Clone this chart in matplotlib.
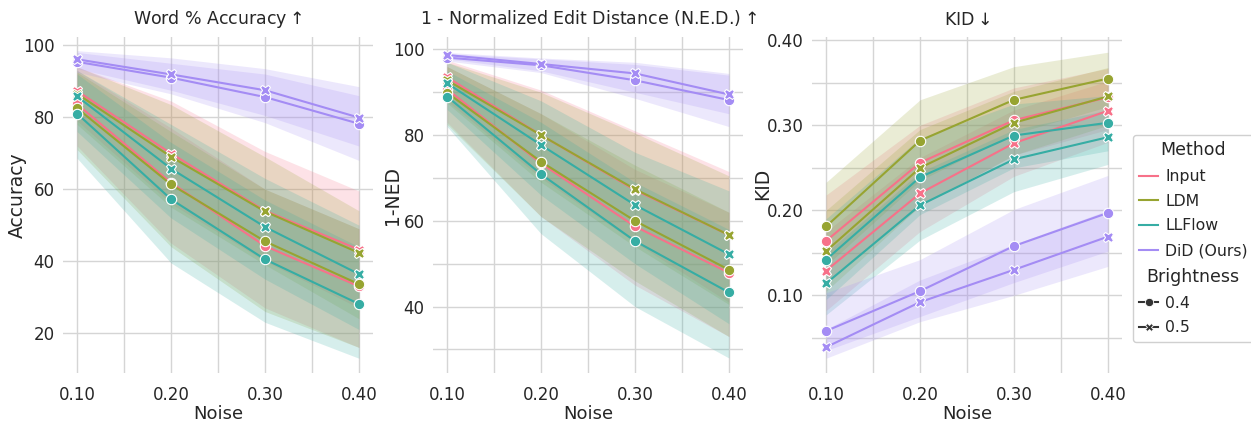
import matplotlib
matplotlib.use("Agg")
import matplotlib.pyplot as plt
from matplotlib.lines import Line2D
from matplotlib.offsetbox import VPacker
from matplotlib.ticker import MultipleLocator, FormatStrFormatter

# ---------------- data ----------------
noise = [0.10, 0.20, 0.30, 0.40]
methods = ["Input", "LDM", "LLFlow", "DiD (Ours)"]
brightness = ["0.4", "0.5"]
colors = ["#f77189", "#97a431", "#36ada4", "#a48cf4"]

# rows ordered: (Input,0.4),(Input,0.5),(LDM,0.4),(LDM,0.5),(LLFlow,0.4),(LLFlow,0.5),(DiD,0.4),(DiD,0.5)
acc_mean = [[83.6, 61.8, 44.2, 33.0], [87.3, 69.9, 54.0, 43.2],
            [82.5, 61.3, 45.5, 33.6], [86.5, 69.0, 53.8, 42.3],
            [81.0, 57.2, 40.5, 28.1], [85.8, 65.7, 49.5, 36.4],
            [95.4, 91.0, 85.6, 78.2], [96.1, 91.9, 87.5, 79.9]]
acc_lo = [[72.0, 45.0, 27.0, 16.0], [79.0, 56.0, 40.0, 27.0],
          [71.0, 44.0, 26.0, 16.0], [78.0, 55.0, 39.0, 24.0],
          [68.6, 39.5, 23.0, 13.0], [76.0, 52.0, 35.0, 21.0],
          [92.5, 86.5, 78.5, 68.0], [93.5, 87.5, 80.5, 72.0]]
acc_hi = [[93.0, 77.0, 60.0, 49.0], [94.0, 84.5, 70.5, 59.5],
          [92.5, 76.0, 60.0, 49.0], [94.0, 83.5, 69.0, 54.0],
          [92.0, 73.0, 57.0, 44.0], [93.0, 78.0, 63.0, 50.0],
          [98.0, 95.0, 92.0, 86.0], [98.5, 96.5, 93.5, 88.5]]

ned_mean = [[90.7, 73.4, 58.7, 47.9], [93.5, 80.0, 67.2, 56.7],
            [89.9, 73.8, 60.0, 48.6], [92.8, 80.0, 67.4, 56.7],
            [89.0, 70.9, 55.3, 43.3], [92.1, 77.7, 63.7, 52.2],
            [98.1, 96.3, 92.8, 88.2], [98.7, 96.6, 94.4, 89.5]]
ned_lo = [[83.0, 61.0, 45.0, 33.0], [88.0, 70.0, 55.0, 41.0],
          [82.5, 61.0, 46.0, 33.0], [87.5, 69.0, 54.0, 40.5],
          [82.0, 57.0, 40.0, 28.0], [86.0, 66.0, 50.0, 36.0],
          [97.3, 94.6, 88.6, 82.0], [97.8, 95.0, 90.0, 85.0]]
ned_hi = [[96.0, 85.0, 72.0, 62.0], [97.5, 90.5, 81.0, 71.5],
          [96.0, 85.0, 73.0, 62.0], [97.0, 90.0, 80.5, 70.5],
          [95.0, 83.0, 69.0, 58.0], [97.0, 88.0, 76.0, 67.0],
          [99.0, 97.8, 96.5, 94.0], [99.3, 98.0, 97.0, 94.4]]

kid_mean = [[0.164, 0.256, 0.306, 0.333], [0.129, 0.220, 0.279, 0.317],
            [0.181, 0.282, 0.330, 0.355], [0.152, 0.250, 0.303, 0.334],
            [0.142, 0.239, 0.288, 0.303], [0.114, 0.206, 0.260, 0.286],
            [0.058, 0.105, 0.158, 0.197], [0.039, 0.092, 0.130, 0.169]]
kid_lo = [[0.115, 0.205, 0.265, 0.295], [0.082, 0.175, 0.240, 0.280],
          [0.135, 0.235, 0.290, 0.322], [0.105, 0.205, 0.265, 0.300],
          [0.095, 0.195, 0.250, 0.270], [0.077, 0.165, 0.222, 0.254],
          [0.035, 0.075, 0.115, 0.152], [0.026, 0.069, 0.100, 0.134]]
kid_hi = [[0.218, 0.300, 0.344, 0.367], [0.175, 0.262, 0.318, 0.352],
          [0.233, 0.330, 0.369, 0.386], [0.200, 0.295, 0.340, 0.368],
          [0.190, 0.285, 0.325, 0.335], [0.150, 0.245, 0.295, 0.318],
          [0.103, 0.142, 0.201, 0.241], [0.060, 0.118, 0.160, 0.200]]

titles = ["Word % Accuracy$\\uparrow$",
          "1 - Normalized Edit Distance (N.E.D.)$\\uparrow$",
          "KID$\\downarrow$"]
ylabels = ["Accuracy", "1-NED", "KID"]

# ---------------- style ----------------
TXT = "#262626"
GRID = "#d5d5d5"
plt.rcParams.update({
    "font.family": ["DejaVu Sans"],
    "text.color": TXT, "axes.labelcolor": TXT,
    "xtick.color": TXT, "ytick.color": TXT,
})

W, H = 1251, 424
fig = plt.figure(figsize=(W / 100, H / 100), dpi=100)
lefts = [63, 433, 812]
ax_w, top_px, bot_px = 310, 37, 373
axes = [fig.add_axes([l / W, 1 - bot_px / H, ax_w / W, (bot_px - top_px) / H]) for l in lefts]

markers = ["o", "X"]
datasets = [(acc_mean, acc_lo, acc_hi), (ned_mean, ned_lo, ned_hi), (kid_mean, kid_lo, kid_hi)]
ylims = [(8.9, 102.3), (24.5, 102.9), (0.0086, 0.4039)]
ymaj = [20, 20, 0.1]
ymin = [20, 10, 0.05]
ylab_x_px = [27, 402, 772]
ylab_y_px = [195.5, 195, 184]

for k, ax in enumerate(axes):
    mean, lo, hi = datasets[k]
    ax.set_axisbelow(True)
    for s in ax.spines.values():
        s.set_visible(False)
    for mi, m in enumerate(methods):
        for bi, b in enumerate(brightness):
            r = mi * 2 + bi
            ax.fill_between(noise, lo[r], hi[r], color=colors[mi], alpha=0.2, lw=0, zorder=1)
    for mi, m in enumerate(methods):
        for bi, b in enumerate(brightness):
            r = mi * 2 + bi
            ax.plot(noise, mean[r], color=colors[mi], lw=1.5, marker=markers[bi],
                    ms=7.5, mec="white", mew=0.8, zorder=3)
    ax.set_xlim(0.085, 0.415)
    ax.set_ylim(*ylims[k])
    ax.xaxis.set_major_locator(MultipleLocator(0.1))
    ax.xaxis.set_minor_locator(MultipleLocator(0.05))
    ax.xaxis.set_major_formatter(FormatStrFormatter("%.2f"))
    ax.yaxis.set_major_locator(MultipleLocator(ymaj[k]))
    ax.yaxis.set_minor_locator(MultipleLocator(ymin[k]))
    if k == 2:
        ax.yaxis.set_major_formatter(FormatStrFormatter("%.2f"))
    ax.grid(True, which="both", color=GRID, lw=1.0)
    ax.tick_params(which="both", length=0, labelsize=12)
    ax.tick_params(axis="x", pad=9)
    ax.tick_params(axis="y", pad=6)
    ax.set_xlabel("Noise", fontsize=13, labelpad=1)
    ax.set_ylabel(ylabels[k], fontsize=13.5)
    ax.yaxis.set_label_coords((ylab_x_px[k] - lefts[k]) / ax_w,
                              (bot_px - ylab_y_px[k]) / (bot_px - top_px))
    ax.set_title(titles[k], fontsize=12.5, pad=9)

# ---------------- legend ----------------
handles = [Line2D([], [], color=c, lw=1.5) for c in colors]
labels = list(methods)
handles.append(Line2D([], [], visible=False))
labels.append("Brightness")
for bi, b in enumerate(brightness):
    handles.append(Line2D([], [], color="#333333", lw=1.5, marker=markers[bi], ms=6,
                          mec="white", mew=0.6))
    labels.append(b)
leg = axes[2].legend(handles, labels, title="Method", loc="upper left",
                     bbox_to_anchor=(1133 / W, 1 - 135 / H), bbox_transform=fig.transFigure,
                     borderaxespad=0, fontsize=11.3, title_fontsize=12.5,
                     handlelength=1.2, handletextpad=0.45, labelspacing=0.62,
                     borderpad=0.4, frameon=True, edgecolor="#d0d0d0", framealpha=1.0)
leg.get_frame().set_linewidth(1.0)
hpackers = leg.findobj(VPacker)[0].get_children()
for hpack in hpackers:
    draw_area, text_area = hpack.get_children()
    arts = draw_area.get_children()
    if not all(a.get_visible() for a in arts):
        draw_area.set_width(0)
        for t in text_area.get_children():
            t.set_size(12.5)

fig.savefig("out.png", dpi=100)
